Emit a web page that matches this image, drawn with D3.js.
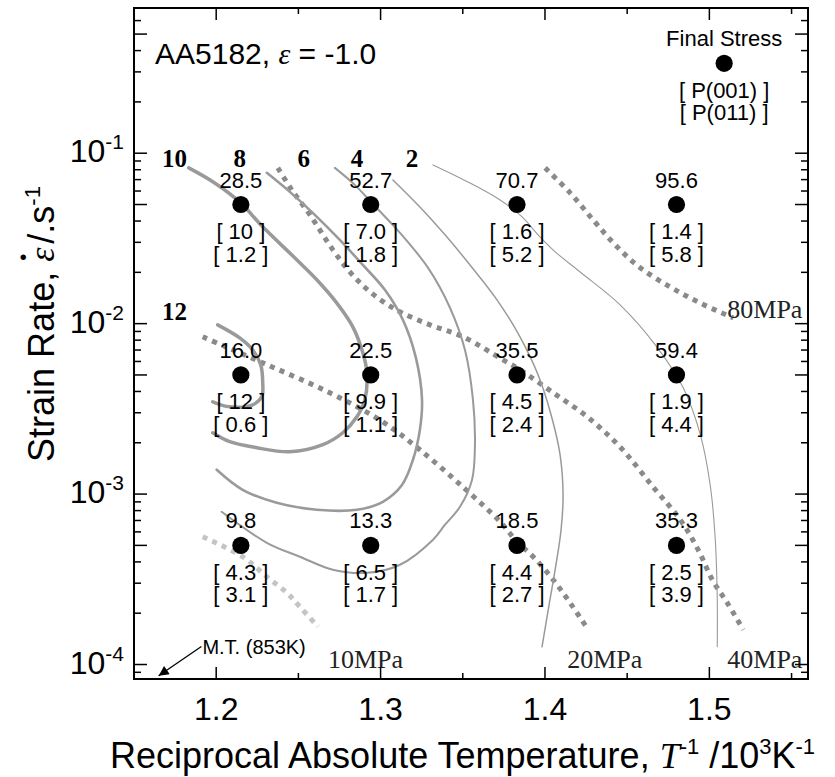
<!DOCTYPE html>
<html><head><meta charset="utf-8">
<script src="https://cdn.jsdelivr.net/npm/d3@7"></script>
<style>body{margin:0;background:#fff}svg{display:block}</style>
</head><body>
<svg id="c" width="835" height="777"></svg>
<script>
// ---------- data ----------
const invT = [1.215, 1.294, 1.383, 1.480];            // 1/T (10^3 K^-1)
const rates = [5e-2, 5e-3, 5e-4];                     // strain rate rows
const finalStress = [["28.5","52.7","70.7","95.6"],["16.0","22.5","35.5","59.4"],["9.8","13.3","18.5","35.3"]];
const p001 = [["10","7.0","1.6","1.4"],["12","9.9","4.5","1.9"],["4.3","6.5","4.4","2.5"]];
const p011 = [["1.2","1.8","5.2","5.8"],["0.6","1.1","2.4","4.4"],["3.1","1.7","2.7","3.9"]];
const legendPoint = [1.509, 0.337];
const legendLabels = ["Final Stress", "[ P(001) ]", "[ P(011) ]"];

const xMajor = [1.2, 1.3, 1.4, 1.5];
const xMinor = [1.25, 1.35, 1.45, 1.55];
const yDecades = [-4, -3, -2, -1];

// P(001) contour lines (1/T, strain rate)
const c12 = [[1.2009,9.84e-3],[1.2143,8.25e-3],[1.2222,7.02e-3],[1.2271,5.73e-3],[1.2283,4.50e-3],[1.2277,3.72e-3],[1.2222,3.34e-3],[1.2082,3.25e-3],[1.1979,3.48e-3]];
const c10 = [[1.1833,8.20e-2],[1.1991,6.69e-2],[1.2149,5.11e-2],[1.2277,3.75e-2],[1.2490,2.37e-2],[1.2612,1.81e-2],[1.2734,1.32e-2],[1.2831,9.58e-3],[1.2892,6.74e-3],[1.2917,5.14e-3],[1.2904,3.57e-3],[1.2856,2.84e-3],[1.2770,2.29e-3],[1.2649,1.95e-3],[1.2447,1.77e-3],[1.2247,1.87e-3],[1.2082,2.03e-3],[1.1979,2.29e-3]];
const c8 = [[1.2308,7.67e-2],[1.2448,5.93e-2],[1.2600,4.35e-2],[1.2752,3.10e-2],[1.2892,2.21e-2],[1.3026,1.58e-2],[1.3136,1.05e-2],[1.3215,6.30e-3],[1.3252,3.57e-3],[1.3239,2.38e-3],[1.3197,1.59e-3],[1.3130,1.13e-3],[1.3014,9.01e-4],[1.2856,8.09e-4],[1.2612,8.09e-4],[1.2368,8.89e-4],[1.2161,1.06e-3],[1.2003,1.39e-3]];
const c6 = [[1.2722,8.20e-2],[1.2843,6.52e-2],[1.2947,5.11e-2],[1.3118,3.41e-2],[1.3288,2.13e-2],[1.3422,1.24e-2],[1.3513,7.02e-3],[1.3562,3.57e-3],[1.3574,1.95e-3],[1.3556,1.21e-3],[1.3483,8.42e-4],[1.3392,6.61e-4],[1.3319,5.40e-4],[1.3118,3.85e-4],[1.2917,3.45e-4],[1.2710,3.60e-4],[1.2509,4.29e-4],[1.2308,5.18e-4],[1.2033,7.87e-4]];
const c4 = [[1.3075,6.97e-2],[1.3239,4.84e-2],[1.3392,3.32e-2],[1.3544,2.21e-2],[1.3708,1.38e-2],[1.3848,8.37e-3],[1.3958,5.01e-3],[1.4037,2.92e-3],[1.4092,1.70e-3],[1.4110,9.91e-4],[1.4098,6.18e-4],[1.4062,3.60e-4],[1.4025,2.24e-4],[1.3982,1.27e-4]];
const c2 = [[1.3319,8.54e-2],[1.3544,6.69e-2],[1.3727,5.32e-2],[1.3861,4.23e-2],[1.3958,3.32e-2],[1.4062,2.64e-2],[1.4214,2.01e-2],[1.4457,1.29e-2],[1.4671,7.51e-3],[1.4841,4.20e-3],[1.4945,2.23e-3],[1.5005,1.13e-3],[1.5036,5.40e-4],[1.5048,2.40e-4],[1.5048,1.27e-4]];
const contourNames = ["12","10","8","6","4","2"];
const contourLabelPos = [[1.1747,1.05e-2],[1.1747,8.31e-2],[1.2143,8.31e-2],[1.2533,8.31e-2],[1.2856,8.31e-2],[1.3191,8.31e-2]];

// iso-stress lines
const s10 = [[1.1918,5.62e-4],[1.2161,4.29e-4],[1.2308,3.27e-4],[1.2429,2.64e-4],[1.2509,2.18e-4],[1.2618,1.67e-4]];
const s20 = [[1.1918,8.37e-3],[1.2283,5.89e-3],[1.2691,3.93e-3],[1.3014,2.65e-3],[1.3239,1.82e-3],[1.3501,1.10e-3],[1.3727,6.88e-4],[1.3830,5.25e-4],[1.3928,4.29e-4],[1.4050,3.14e-4],[1.4153,2.30e-4],[1.4263,1.60e-4]];
const s40 = [[1.2375,8.20e-2],[1.2460,6.09e-2],[1.2570,4.35e-2],[1.2710,2.71e-2],[1.2813,2.01e-2],[1.2935,1.54e-2],[1.3099,1.20e-2],[1.3300,9.84e-3],[1.3501,8.37e-3],[1.3745,6.13e-3],[1.3848,5.36e-3],[1.4050,3.93e-3],[1.4257,2.84e-3],[1.4457,1.89e-3],[1.4658,1.10e-3],[1.4823,7.07e-4],[1.4932,4.71e-4],[1.5018,3.14e-4],[1.5109,2.30e-4],[1.5206,1.60e-4]];
const s80 = [[1.4001,8.20e-2],[1.4153,5.85e-2],[1.4293,4.06e-2],[1.4427,2.90e-2],[1.4579,2.13e-2],[1.4762,1.64e-2],[1.4945,1.32e-2],[1.5146,1.08e-2]];
const stressNames = ["10MPa","20MPa","40MPa","80MPa"];
const stressLabelPos = [[1.2680,9.58e-5],[1.4135,9.58e-5],[1.5109,9.58e-5],[1.5109,1.08e-2]];

const meltArrow = [[1.191,1.277e-4],[1.165,8.6e-5]];

// ---------- drawing ----------
const svg = d3.select("#c");
svg.append("rect").attr("width",835).attr("height",777).attr("fill","#fff");
const L=134, R=808, T=8, B=679;
const x = d3.scaleLinear().domain([1.15,1.56]).range([L,R]);
const y = d3.scaleLog().domain([Math.pow(10,-4.085),Math.pow(10,-0.148)]).range([B,T]);
const SANS = "'Liberation Sans', Arial, sans-serif";
const SERIF = "'Liberation Serif', 'Times New Roman', serif";

const line = d3.line().x(d=>x(d[0])).y(d=>y(d[1])).curve(d3.curveCatmullRom.alpha(0.5));

// stress (dotted) lines
const sColors = ["#c4c4c4","#8a8a8a","#8a8a8a","#8a8a8a"];
[s10,s20,s40,s80].forEach((s,i)=>{
  svg.append("path").attr("d",line(s)).attr("fill","none")
    .attr("stroke",sColors[i]).attr("stroke-width",5).attr("stroke-dasharray","5 5.5");
});
// P(001) contours
const cw = [3.5,3.5,2.6,2,1.5,1.1];
[c12,c10,c8,c6,c4,c2].forEach((c,i)=>{
  svg.append("path").attr("d",line(c)).attr("fill","none")
    .attr("stroke","#9a9a9a").attr("stroke-width",cw[i]).attr("stroke-linecap","round");
});

// contour labels
contourNames.forEach((n,i)=>{
  svg.append("text").attr("x",x(contourLabelPos[i][0])).attr("y",y(contourLabelPos[i][1]))
    .attr("text-anchor","middle").attr("font-family",SERIF).attr("font-weight","bold")
    .attr("font-size",25).text(n);
});
stressNames.forEach((n,i)=>{
  svg.append("text").attr("x",x(stressLabelPos[i][0])).attr("y",y(stressLabelPos[i][1]))
    .attr("font-family",SERIF).attr("font-size",26).attr("fill","#222").text(n);
});

// points and labels
function pointWithLabels(px,py,lbls){
  svg.append("circle").attr("cx",px).attr("cy",py).attr("r",8.6).attr("fill","#000");
  const offs=[-17,34.5,57];
  lbls.forEach((t,k)=>{
    svg.append("text").attr("x",px).attr("y",py+offs[k]).attr("text-anchor","middle")
      .attr("font-family",SANS).attr("font-size",22).attr("fill","#000").text(t);
  });
}
rates.forEach((r,ri)=>{
  invT.forEach((t,ci)=>{
    pointWithLabels(x(t),y(r),[finalStress[ri][ci],"[ "+p001[ri][ci]+" ]","[ "+p011[ri][ci]+" ]"]);
  });
});
pointWithLabels(x(legendPoint[0]),y(legendPoint[1]),legendLabels);

// melting temperature arrow
svg.append("defs").append("marker").attr("id","ah").attr("viewBox","0 0 10 10")
  .attr("refX",10).attr("refY",5).attr("markerWidth",17).attr("markerHeight",10)
  .attr("markerUnits","userSpaceOnUse").attr("orient","auto")
  .append("path").attr("d","M0,0L10,5L0,10z").attr("fill","#000");
svg.append("line").attr("x1",x(meltArrow[0][0])).attr("y1",y(meltArrow[0][1]))
  .attr("x2",x(meltArrow[1][0])).attr("y2",y(meltArrow[1][1]))
  .attr("stroke","#000").attr("stroke-width",1.3).attr("marker-end","url(#ah)");
svg.append("text").attr("x",x(meltArrow[0][0])+1).attr("y",y(meltArrow[0][1])+8)
  .attr("font-family",SANS).attr("font-size",20).text("M.T. (853K)");

// frame
svg.append("rect").attr("x",L).attr("y",T).attr("width",R-L).attr("height",B-T)
  .attr("fill","none").attr("stroke","#000").attr("stroke-width",2);

// x ticks
const tk = svg.append("g").attr("stroke","#000").attr("stroke-width",1.5);
xMajor.concat(xMinor).forEach(v=>{
  const len = xMajor.includes(v)?12:6;
  tk.append("line").attr("x1",x(v)).attr("x2",x(v)).attr("y1",B).attr("y2",B-len);
  tk.append("line").attr("x1",x(v)).attr("x2",x(v)).attr("y1",T).attr("y2",T+len);
});
xMajor.forEach(v=>{
  svg.append("text").attr("x",x(v)).attr("y",B+41).attr("text-anchor","middle")
    .attr("font-family",SANS).attr("font-size",32).text(d3.format(".1f")(v));
});
// y ticks
const [y0,y1] = y.domain();
for(let k=-5;k<=0;k++){
  for(let m=1;m<=9;m++){
    const v=m*Math.pow(10,k);
    if(v<y0||v>y1) continue;
    const py=y(v);
    if(py<T+3||py>B-3) continue;
    const len=(m===1||m===5)?13:7;
    tk.append("line").attr("x1",L).attr("x2",L+len).attr("y1",py).attr("y2",py);
    tk.append("line").attr("x1",R).attr("x2",R-len).attr("y1",py).attr("y2",py);
  }
}
yDecades.forEach(d=>{
  const t=svg.append("text").attr("x",L-10).attr("y",y(Math.pow(10,d))+9).attr("text-anchor","end")
    .attr("font-family",SANS).attr("font-size",32);
  t.append("tspan").text("10");
  t.append("tspan").attr("dy",-13).attr("font-size",21).text(String(d));
});

// annotation
const an = svg.append("text").attr("x",155).attr("y",64).attr("font-family",SANS).attr("font-size",30);
an.append("tspan").text("AA5182, ");
an.append("tspan").attr("font-family",SERIF).attr("font-style","italic").text("ε");
an.append("tspan").text(" = -1.0");

// axis titles
const xt = svg.append("text").attr("x",110).attr("y",768).attr("font-family",SANS).attr("font-size",36);
xt.append("tspan").text("Reciprocal Absolute Temperature, ");
xt.append("tspan").attr("font-family",SERIF).attr("font-style","italic").text("T");
xt.append("tspan").attr("dy",-14).attr("font-size",22).text("-1");
xt.append("tspan").attr("dy",14).text(" /10");
xt.append("tspan").attr("dy",-14).attr("font-size",22).text("3");
xt.append("tspan").attr("dy",14).text("K");
xt.append("tspan").attr("dy",-14).attr("font-size",22).text("-1");

const yt = svg.append("text").attr("transform","translate(54,324) rotate(-90)")
  .attr("text-anchor","middle").attr("font-family",SANS).attr("font-size",36);
yt.append("tspan").text("Strain Rate, ");
yt.append("tspan").attr("font-family",SERIF).attr("font-style","italic").text("ε");
yt.append("tspan").attr("dx",-13).attr("dy",-24).attr("font-size",20).text("\u2022");
yt.append("tspan").attr("dy",24).text(" /.s");
yt.append("tspan").attr("dy",-14).attr("font-size",22).text("-1");
</script>
</body></html>
